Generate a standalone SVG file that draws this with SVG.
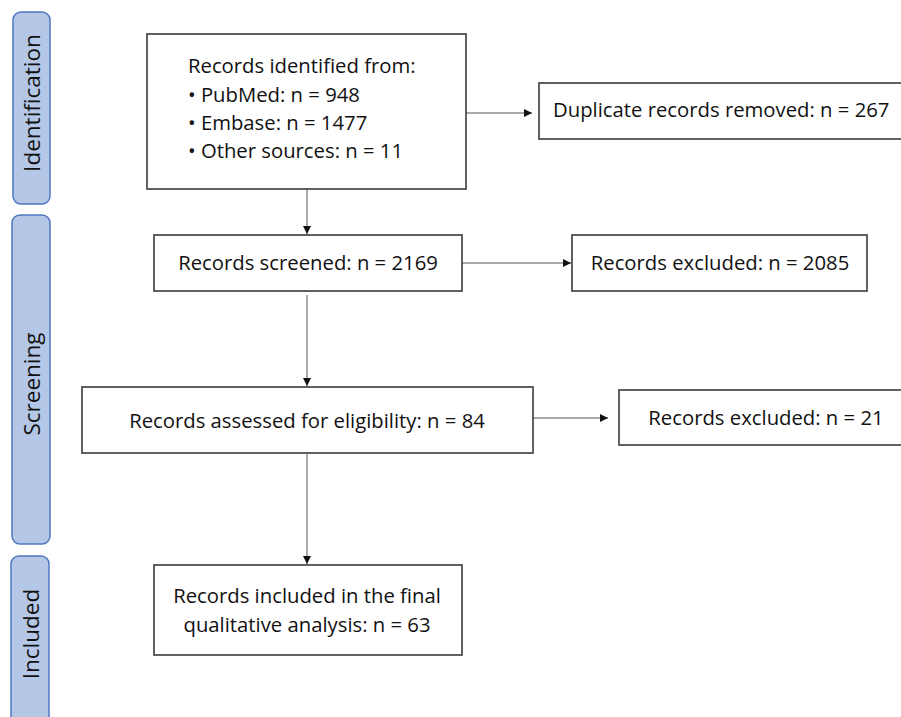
<svg xmlns="http://www.w3.org/2000/svg" width="901" height="717" viewBox="0 0 901 717">
<style>
.bar{fill:#b4c7e7;stroke:#4f78be;stroke-width:1.5}
.box{fill:#fff;stroke:#3a3a3a;stroke-width:1.6}
.t{font-family:"Open Sans","Noto Sans","Liberation Sans",sans-serif;font-size:20.3px;fill:#111}
.lbl{font-family:"Open Sans","Noto Sans","Liberation Sans",sans-serif;font-size:22.5px;fill:#111}
.c{text-anchor:middle}
.conn line{stroke:#555;stroke-width:1}
</style>
<defs>
<marker id="ah" viewBox="0 0 10 10" refX="10" refY="5" markerWidth="8" markerHeight="8" markerUnits="userSpaceOnUse" orient="auto">
<path d="M0,0 L10,5 L0,10 Z" fill="#111"/>
</marker>
</defs>
<rect width="901" height="717" fill="#fff"/>
<g id="phase-identification">
<rect class="bar" x="13" y="12" width="37" height="192" rx="8"/>
<text class="lbl c" transform="translate(31,103) rotate(-90)" dominant-baseline="central">Identification</text>
</g>
<g id="phase-screening">
<rect class="bar" x="12" y="215" width="38" height="329" rx="8"/>
<text class="lbl c" transform="translate(31,384) rotate(-90)" dominant-baseline="central">Screening</text>
</g>
<g id="phase-included">
<rect class="bar" x="11" y="556" width="38" height="190" rx="8"/>
<text class="lbl c" transform="translate(30,634) rotate(-90)" dominant-baseline="central">Included</text>
</g>
<g class="conn" id="connectors">
<line x1="466" y1="113" x2="532" y2="113" marker-end="url(#ah)"/>
<line x1="307" y1="189" x2="307" y2="234" marker-end="url(#ah)"/>
<line x1="462" y1="263" x2="571" y2="263" marker-end="url(#ah)"/>
<line x1="307" y1="295" x2="307" y2="386" marker-end="url(#ah)"/>
<line x1="533" y1="418" x2="608" y2="418" marker-end="url(#ah)"/>
<line x1="307" y1="454" x2="307" y2="564" marker-end="url(#ah)"/>
</g>
<g id="records-identified">
<rect class="box" x="147" y="34" width="319" height="155"/>
<text class="t" x="188" y="73">Records identified from:</text>
<text class="t" x="188" y="102">• PubMed: n = 948</text>
<text class="t" x="188" y="130">• Embase: n = 1477</text>
<text class="t" x="188" y="158">• Other sources: n = 11</text>
</g>
<g id="duplicates-removed">
<rect class="box" x="539" y="83" width="370" height="56"/>
<text class="t" x="553" y="117">Duplicate records removed: n = 267</text>
</g>
<g id="records-screened">
<rect class="box" x="154" y="235" width="308" height="56"/>
<text class="t c" x="308" y="270">Records screened: n = 2169</text>
</g>
<g id="records-excluded-1">
<rect class="box" x="572" y="235" width="295" height="56"/>
<text class="t c" x="720" y="270">Records excluded: n = 2085</text>
</g>
<g id="records-assessed">
<rect class="box" x="82" y="387" width="451" height="66"/>
<text class="t c" x="307" y="428">Records assessed for eligibility: n = 84</text>
</g>
<g id="records-excluded-2">
<rect class="box" x="619" y="390" width="290" height="55"/>
<text class="t c" x="766" y="425">Records excluded: n = 21</text>
</g>
<g id="records-included">
<rect class="box" x="154" y="565" width="308" height="90"/>
<text class="t c" x="307" y="603">Records included in the final</text>
<text class="t c" x="307" y="632">qualitative analysis: n = 63</text>
</g>
</svg>
